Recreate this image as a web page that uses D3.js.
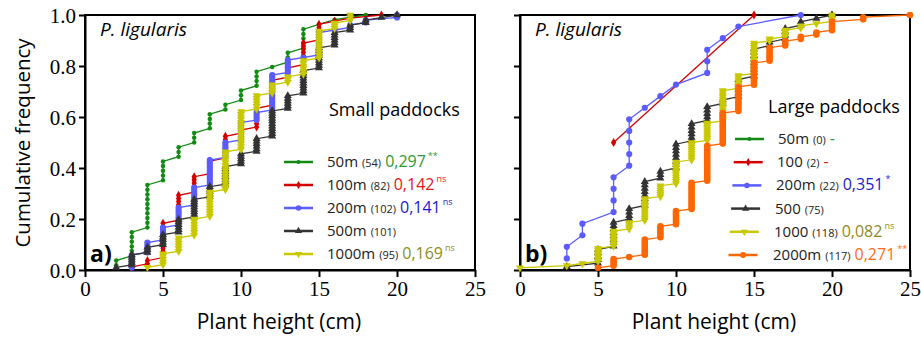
<!DOCTYPE html>
<html>
<head>
<meta charset="utf-8">
<script src="https://cdn.jsdelivr.net/npm/d3@7"></script>
<style>
  body { margin: 0; background: #fff; }
  text { font-family: "Open Sans", "Noto Sans", sans-serif; }
</style>
</head>
<body>
<svg id="chart" width="921" height="341"></svg>
<script>
// ---- data (cumulative counts at each plant height) ----
const xTicks = [0, 5, 10, 15, 20, 25];
const yTicks = [0, 0.2, 0.4, 0.6, 0.8, 1.0];

const smallLabels = ["50m", "100m", "200m", "500m", "1000m"];
const smallN = [54, 82, 102, 101, 95];
const smallStat = ["0,297", "0,142", "0,141", "", "0,169"];
const smallSig = ["**", "ns", "ns", "", "ns"];
const smallHeights = [
  [2, 3, 4, 5, 6, 7, 8, 9, 10, 11, 12, 13, 14, 15, 16, 18],
  [3, 4, 5, 6, 7, 8, 9, 10, 11, 12, 13, 14, 15, 16, 17, 19],
  [3, 4, 5, 6, 7, 8, 9, 10, 11, 12, 13, 14, 15, 16, 17, 18, 20],
  [2, 3, 4, 5, 6, 7, 8, 9, 10, 11, 12, 13, 14, 15, 16, 17, 18, 19, 20],
  [4, 5, 6, 7, 8, 9, 10, 11, 12, 13, 14, 15, 16, 17]
];
const smallCum = [
  [2, 8, 18, 23, 26, 29, 33, 35, 38, 42, 43, 46, 51, 52, 53, 54],
  [1, 3, 15, 24, 30, 35, 43, 45, 52, 61, 65, 73, 79, 80, 81, 82],
  [6, 11, 17, 25, 33, 44, 51, 59, 63, 78, 84, 85, 95, 96, 98, 100, 102],
  [1, 6, 9, 14, 20, 28, 33, 41, 46, 52, 63, 69, 79, 88, 94, 97, 99, 100, 101],
  [1, 6, 12, 19, 29, 44, 59, 65, 69, 72, 78, 89, 92, 95]
];

const largeLabels = ["50m", "100", "200m", "500", "1000", "2000m"];
const largeN = [0, 2, 22, 75, 118, 117];
const largeStat = ["-", "-", "0,351", "", "0,082", "0,271"];
const largeSig = ["", "", "*", "", "ns", "**"];
const largeHeights = [
  [],
  [6, 15],
  [3, 4, 6, 7, 8, 9, 10, 12, 13, 14, 18],
  [3, 5, 6, 7, 8, 9, 10, 11, 12, 13, 14, 15, 16, 17, 18, 19, 20],
  [0, 3, 4, 5, 6, 7, 8, 9, 10, 11, 12, 13, 14, 15, 16, 17, 18, 19, 20],
  [5, 6, 7, 8, 9, 10, 11, 12, 13, 14, 15, 16, 17, 18, 19, 20, 22, 25]
];
const largeCum = [
  [],
  [1, 2],
  [2, 4, 8, 13, 14, 15, 16, 19, 20, 21, 22],
  [1, 6, 14, 18, 26, 29, 37, 43, 48, 50, 56, 65, 67, 71, 73, 74, 75],
  [1, 2, 3, 10, 18, 22, 33, 39, 50, 59, 68, 83, 90, 105, 107, 111, 113, 114, 118],
  [1, 5, 6, 14, 20, 27, 40, 57, 72, 84, 95, 102, 105, 107, 109, 114, 116, 117]
];

// ---- styles ----
const lineColors = ["#138a13", "#d40000", "#5b5bff", "#333333", "#c8c800", "#ff6600"];
const statColors = ["#2e9a2e", "#e01818", "#1a1acc", "#333333", "#8c8c1e", "#ff6a1a"];
const symbols = [
  { type: d3.symbolCircle, size: 16, rot: 0 },
  { type: d3.symbolDiamond, size: 24, rot: 0 },
  { type: d3.symbolCircle, size: 30, rot: 0 },
  { type: d3.symbolTriangle, size: 28, rot: 0 },
  { type: d3.symbolTriangle, size: 28, rot: 180 },
  { type: d3.symbolCircle, size: 34, rot: 0 }
];

const svg = d3.select("#chart");
const plotTop = 15, plotBottom = 270;

function ecdfPoints(heights, cum, n) {
  const pts = [];
  let prev = 0;
  heights.forEach((h, i) => {
    for (let k = prev + 1; k <= cum[i]; k++) pts.push([h, k / n]);
    prev = cum[i];
  });
  return pts;
}

function drawPanel(left, right, showYLabels, series, tag, title) {
  const x = d3.scaleLinear().domain([0, 25]).range([left, right]);
  const y = d3.scaleLinear().domain([0, 1]).range([plotBottom, plotTop]);
  const g = svg.append("g");

  // box
  g.append("rect")
    .attr("x", left).attr("y", plotTop)
    .attr("width", right - left).attr("height", plotBottom - plotTop)
    .attr("fill", "none").attr("stroke", "#000").attr("stroke-width", 2);

  const xAxis = g.append("g")
    .attr("transform", `translate(0,${plotBottom})`)
    .call(d3.axisBottom(x).tickValues(xTicks).tickSize(7).tickSizeOuter(0).tickPadding(4));
  xAxis.selectAll("text")
    .style("font-family", "'Liberation Serif', serif").style("font-size", "21px").attr("fill", "#000");

  const yAxis = g.append("g")
    .attr("transform", `translate(${left},0)`)
    .call(d3.axisLeft(y).tickValues(yTicks).tickSize(6).tickSizeOuter(0).tickPadding(3)
      .tickFormat(showYLabels ? d3.format(".1f") : ""));
  yAxis.selectAll("text")
    .style("font-family", "'Liberation Serif', serif").style("font-size", "21px")
    .attr("dy", "0.36em").attr("fill", "#000");

  [xAxis, yAxis].forEach(a => {
    a.select(".domain").attr("stroke-width", 2);
    a.selectAll(".tick line").attr("stroke-width", 2);
  });

  g.append("text")
    .attr("x", (left + right) / 2 - 1).attr("y", 329)
    .attr("text-anchor", "middle").style("font-size", "21px")
    .text("Plant height (cm)");

  g.append("text")
    .attr("x", left + 15).attr("y", 36)
    .style("font-size", "19px").style("font-style", "italic")
    .text("P. ligularis");

  g.append("text")
    .attr("x", left + 5).attr("y", 262)
    .style("font-size", "23px").style("font-weight", "bold")
    .text(tag);

  g.append("text")
    .attr("x", title.x).attr("y", title.y)
    .style("font-size", "18px")
    .text(title.text);

  // series
  const line = d3.line().x(d => x(d[0])).y(d => y(d[1]));
  series.forEach(s => {
    if (!s.points.length) return;
    const sg = g.append("g");
    sg.append("path")
      .attr("d", line(s.points))
      .attr("fill", "none").attr("stroke", s.color).attr("stroke-width", 1.3);
    const sym = d3.symbol().type(s.symbol.type).size(s.symbol.size);
    sg.selectAll("path.m")
      .data(s.points)
      .join("path")
      .attr("class", "m")
      .attr("d", sym)
      .attr("transform", d => `translate(${x(d[0])},${y(d[1])}) rotate(${s.symbol.rot})`)
      .attr("fill", s.color);
  });

  // legend
  series.forEach(s => {
    const lg = g.append("g");
    lg.append("line")
      .attr("x1", s.lx).attr("x2", s.lx + 29)
      .attr("y1", s.ly).attr("y2", s.ly)
      .attr("stroke", s.color).attr("stroke-width", 2.5);
    lg.append("path")
      .attr("d", d3.symbol().type(s.symbol.type).size(s.symbol.size * 0.8)())
      .attr("transform", `translate(${s.lx + 14.5},${s.ly}) rotate(${s.symbol.rot})`)
      .attr("fill", s.color);
    const t = lg.append("text")
      .attr("x", s.tx).attr("y", s.ly + 5)
      .attr("fill", "#222");
    t.append("tspan").style("font-size", "15px").text(s.label);
    t.append("tspan").style("font-size", "11px").attr("dx", 4).text(`(${s.n})`);
    if (s.stat) {
      t.append("tspan").style("font-size", "16px").attr("dx", 4)
        .attr("fill", s.statColor).text(s.stat);
    }
    if (s.sig) {
      t.append("tspan").style("font-size", "9px").attr("dx", 2).attr("dy", -8)
        .attr("fill", s.statColor).text(s.sig);
    }
  });
}

const smallSeries = smallLabels.map((label, i) => ({
  label, n: smallN[i], stat: smallStat[i], sig: smallSig[i],
  color: lineColors[i], statColor: statColors[i], symbol: symbols[i],
  points: ecdfPoints(smallHeights[i], smallCum[i], smallN[i]),
  lx: 284, ly: 162 + i * 23, tx: 327
}));

const largeSeries = largeLabels.map((label, i) => ({
  label, n: largeN[i], stat: largeStat[i], sig: largeSig[i],
  color: lineColors[i], statColor: statColors[i], symbol: symbols[i],
  points: ecdfPoints(largeHeights[i], largeCum[i], largeN[i] || 1),
  lx: 735 - i * 1.3, ly: 139 + i * 23.2, tx: 778 - i * 1
}));

drawPanel(85, 475, true, smallSeries, "a)", { x: 329, y: 116, text: "Small paddocks" });
drawPanel(520, 910, false, largeSeries, "b)", { x: 768, y: 113, text: "Large paddocks" });

// y axis title
svg.append("text")
  .attr("transform", "translate(30,143) rotate(-90)")
  .attr("text-anchor", "middle")
  .style("font-size", "20.5px")
  .text("Cumulative frequency");
</script>
</body>
</html>
